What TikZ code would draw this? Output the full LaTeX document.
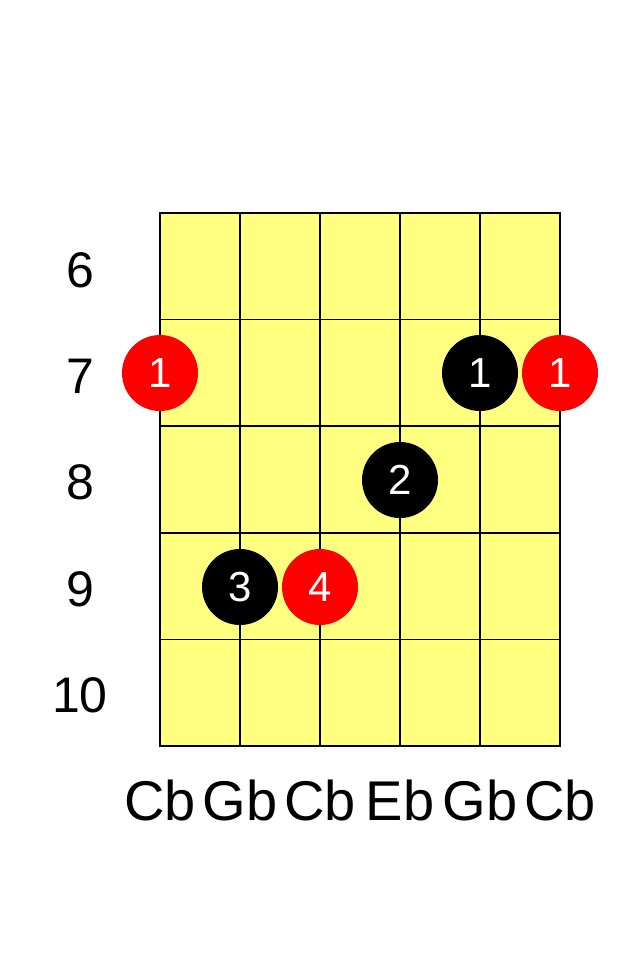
\documentclass[tikz,border=0pt]{standalone}
\usepackage{fontspec}
\setmainfont{Liberation Sans}
\begin{document}
\begin{tikzpicture}[x=1pt,y=-1pt,
  fretnum/.style={font=\fontsize{50}{50}\selectfont, anchor=center},
  strname/.style={font=\fontsize{56}{56}\selectfont, anchor=base},
  dotb/.style={circle, fill=black, minimum size=76pt, inner sep=0pt, text=white, font=\fontsize{42}{42}\selectfont},
  dotr/.style={circle, fill=red, minimum size=76pt, inner sep=0pt, text=white, font=\fontsize{42}{42}\selectfont},
  gridline/.style={line width=1.5pt, black}]
\useasboundingbox (0,0) rectangle (640,960);
\fill[fill={rgb,255:red,255;green,255;blue,128}] (160,213) rectangle (560,746);
\foreach \i in {1,...,4} \draw[gridline] (160+\i*80,213) -- (160+\i*80,746);
\foreach \j in {1,...,4} \draw[gridline] (160,213+\j*106.6) -- (560,213+\j*106.6);
\draw[line width=2pt] (160,213) rectangle (560,746);
\node[fretnum] (f6) at (80,270) {6};
\node[fretnum] (f7) at (80,376) {7};
\node[fretnum] (f8) at (80,482) {8};
\node[fretnum] (f9) at (80,589) {9};
\node[fretnum] (f10) at (80,695) {10};
\node[dotr] (d1) at (160,373) {1};
\node[dotb] (d2) at (480,373) {1};
\node[dotr] (d3) at (560,373) {1};
\node[dotb] (d4) at (400,480) {2};
\node[dotb] (d5) at (240,587) {3};
\node[dotr] (d6) at (320,587) {4};
\node[strname] (s1) at (160,820) {Cb};
\node[strname] (s2) at (240,820) {Gb};
\node[strname] (s3) at (320,820) {Cb};
\node[strname] (s4) at (400,820) {Eb};
\node[strname] (s5) at (480,820) {Gb};
\node[strname] (s6) at (560,820) {Cb};
\end{tikzpicture}
\end{document}
